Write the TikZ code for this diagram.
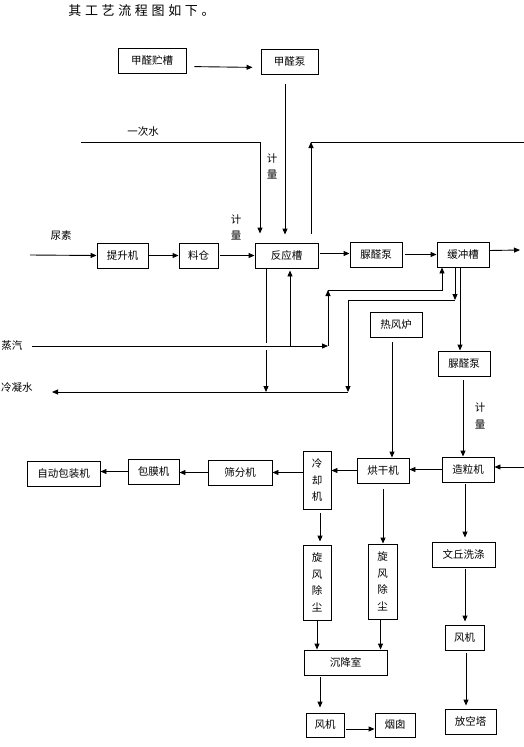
\documentclass[tikz,border=0pt]{standalone}
\usepackage{fontspec}
\setmainfont{Noto Sans CJK SC}
\newfontfamily\titlefont[LetterSpace=28]{Noto Sans CJK SC}
\usetikzlibrary{arrows.meta}
\begin{document}
\begin{tikzpicture}[x=1pt,y=-1pt,line width=0.9pt,>={Triangle[length=6pt,width=5pt]},
    box/.style={draw,inner sep=0pt,minimum height=25pt,font=\fontsize{10.5}{16.5}\selectfont},
    vbox/.style={box,align=center},
    lbl/.style={inner sep=0pt,align=center,font=\fontsize{10.5}{16.5}\selectfont}]
    \useasboundingbox (0,0) rectangle (524,747);
    \node[anchor=west,inner sep=0pt,font=\titlefont\fontsize{13}{13}\selectfont] (title) at (68,11) {其工艺流程图如下。};
    % top row
    \node[box,minimum width=68pt] (zc) at (152,60.5) {甲醛贮槽};
    \node[box,minimum width=57pt] (zb) at (289.5,61.5) {甲醛泵};
    \node[box,minimum width=51pt] (tsj) at (122.5,255.5) {提升机};
    \node[box,minimum width=39pt] (lc) at (198.5,255.5) {料仓};
    \node[box,minimum width=63pt] (fyc) at (286.5,255.5) {反应槽};
    \node[box,minimum width=52pt] (nqb1) at (376,254.5) {脲醛泵};
    \node[box,minimum width=52pt] (hcc) at (463,254.5) {缓冲槽};
    \node[box,minimum width=52pt] (rfl) at (396,324.5) {热风炉};
    \node[box,minimum width=52pt] (nqb2) at (464,363.5) {脲醛泵};
    % product row
    \node[box,minimum width=73pt] (zdbz) at (63.5,473.5) {自动包装机};
    \node[box,minimum width=51pt] (bmj) at (153.5,471.5) {包膜机};
    \node[box,minimum width=64pt] (sfj) at (240,472.5) {筛分机};
    \node[vbox,minimum width=28pt,minimum height=58pt] (lqj) at (317,480) {冷\\却\\机};
    \node[box,minimum width=52pt] (hgj) at (383,470.5) {烘干机};
    \node[box,minimum width=52pt] (zlj) at (468,469.5) {造粒机};
    % dust removal
    \node[vbox,minimum width=28pt,minimum height=75pt] (xf1) at (317,582.5) {旋\\风\\除\\尘};
    \node[vbox,minimum width=29pt,minimum height=75pt] (xf2) at (382.5,581.5) {旋\\风\\除\\尘};
    \node[box,minimum width=83pt] (cjs) at (345.5,662.5) {沉降室};
    \node[box,minimum width=38pt,minimum height=24pt] (fj1) at (325,725) {风机};
    \node[box,minimum width=40pt,minimum height=24pt] (yc) at (395,725) {烟囱};
    \node[box,minimum width=63pt] (wqxd) at (463.5,554.5) {文丘洗涤};
    \node[box,minimum width=39pt] (fj2) at (464.5,637.5) {风机};
    \node[box,minimum width=51pt] (fkt) at (470.5,721.5) {放空塔};
    % labels
    \node[lbl] (l1) at (143,132) {一次水};
    \node[lbl] (l2) at (272,166.5) {计\\量};
    \node[lbl] (l3) at (61,235) {尿素};
    \node[lbl] (l4) at (236,227.5) {计\\量};
    \node[lbl] (l5) at (12,346) {蒸汽};
    \node[lbl] (l6) at (17,388) {冷凝水};
    \node[lbl] (l7) at (480,416) {计\\量};
    % free ends
    \coordinate (w1) at (81,142);
    \coordinate (c1) at (311,142);
    \coordinate (e1) at (524,142);
    \coordinate (ns) at (30,255);
    \coordinate (e2) at (520,250);
    \coordinate (zq) at (32,346);
    \coordinate (s1) at (328,346);
    \coordinate (s2) at (328,290);
    \coordinate (s3) at (290,346);
    \coordinate (c2) at (266,392);
    \coordinate (c3) at (348,392);
    \coordinate (c4) at (455,300);
    \coordinate (lns) at (52,392);
    \coordinate (e3) at (524,467);
    % raw materials
    \draw[->,shorten <=8pt,shorten >=8pt] ([yshift=-6pt]zc.east) -- ([yshift=-6pt]zb.west);
    \draw[->,shorten <=10pt,shorten >=8pt] ([xshift=-4.5pt]zb.south) -- ([xshift=-1.5pt]fyc.north);
    \draw[->,shorten >=9pt] (w1) -| ([xshift=-26.5pt]fyc.north);
    \draw[->,shorten <=9pt] ([xshift=24.5pt]fyc.north) -- (c1);
    \draw (c1) -- (e1);
    \draw[->] (ns) -- (tsj.west);
    \draw[->] (tsj.east) -- (lc.west);
    \draw[->,shorten <=2pt] (lc.east) -- (fyc.west);
    \draw[->,shorten <=2pt] ([yshift=2pt]fyc.east) -- ([yshift=1pt]nqb1.west);
    \draw[->,shorten <=3pt] (nqb1.east) -- (hcc.west);
    \draw[->] ([yshift=4pt]hcc.east) -- (e2);
    % steam and condensate
    \draw[->] (zq) -- (s1);
    \draw[->] (s1) -- (s2);
    \draw[->] (s2) -| ([xshift=-21pt]hcc.south);
    \draw[->,shorten >=2pt] (s3) -- (s3 |- fyc.south);
    \draw ([xshift=-20.5pt]fyc.south) -- ([yshift=3pt]s3 -| c2);
    \draw[->] ([yshift=-4pt]s3 -| c2) -- (c2);
    \draw[->] ([xshift=-8pt]hcc.south) -- (c4);
    \draw[->] (c4) -| (c3);
    \draw[->] (c3) -- (lns);
    \draw[->] ([xshift=-3pt]hcc.south) -- ([xshift=-4pt]nqb2.north);
    \draw[->,shorten <=5pt] ([xshift=-4pt]rfl.south) -- ([xshift=-4pt]rfl.south |- hgj.north);
    \draw[->,shorten <=4pt] ([xshift=-1pt]nqb2.south) -- ([xshift=-1pt]nqb2.south |- zlj.north);
    % granulation line
    \draw[->] (e3) -- (e3 -| zlj.east);
    \draw[->] (zlj.west) -- (zlj.west -| hgj.east);
    \draw[->] (hgj.west) -- (hgj.west -| lqj.east);
    \draw[->] (sfj.east -| lqj.west) -- (sfj.east);
    \draw[->] (sfj.west) -- (sfj.west -| bmj.east);
    \draw[->] (bmj.west) -- (bmj.west -| zdbz.east);
    % exhaust gas
    \draw[->,shorten <=4pt,shorten >=3pt] ([xshift=3pt]lqj.south) -- ([xshift=3pt]xf1.north);
    \draw[->,shorten <=6pt] (hgj.south) -- (hgj.south |- xf2.north);
    \draw[->] (xf1.south) -- (xf1.south |- cjs.north);
    \draw[->] ([xshift=-2pt]xf2.south) -- ([xshift=-2pt]xf2.south |- cjs.north);
    \draw[->,shorten <=2pt,shorten >=5pt] ([xshift=-5pt]fj1.north |- cjs.south) -- ([xshift=-5pt]fj1.north);
    \draw[->,shorten <=2pt] ([yshift=-4pt]fj1.east) -- ([yshift=-4pt]yc.west);
    \draw[->,shorten <=2pt,shorten >=4pt] ([xshift=1.5pt]wqxd.north |- zlj.south) -- ([xshift=1.5pt]wqxd.north);
    \draw[->,shorten <=2pt,shorten >=3pt] ([xshift=1.5pt]wqxd.south) -- ([xshift=1.5pt]wqxd.south |- fj2.north);
    \draw[->,shorten <=3pt,shorten >=3pt] ([xshift=1.5pt]fj2.south) -- ([xshift=1.5pt]fj2.south |- fkt.north);
\end{tikzpicture}
\end{document}
